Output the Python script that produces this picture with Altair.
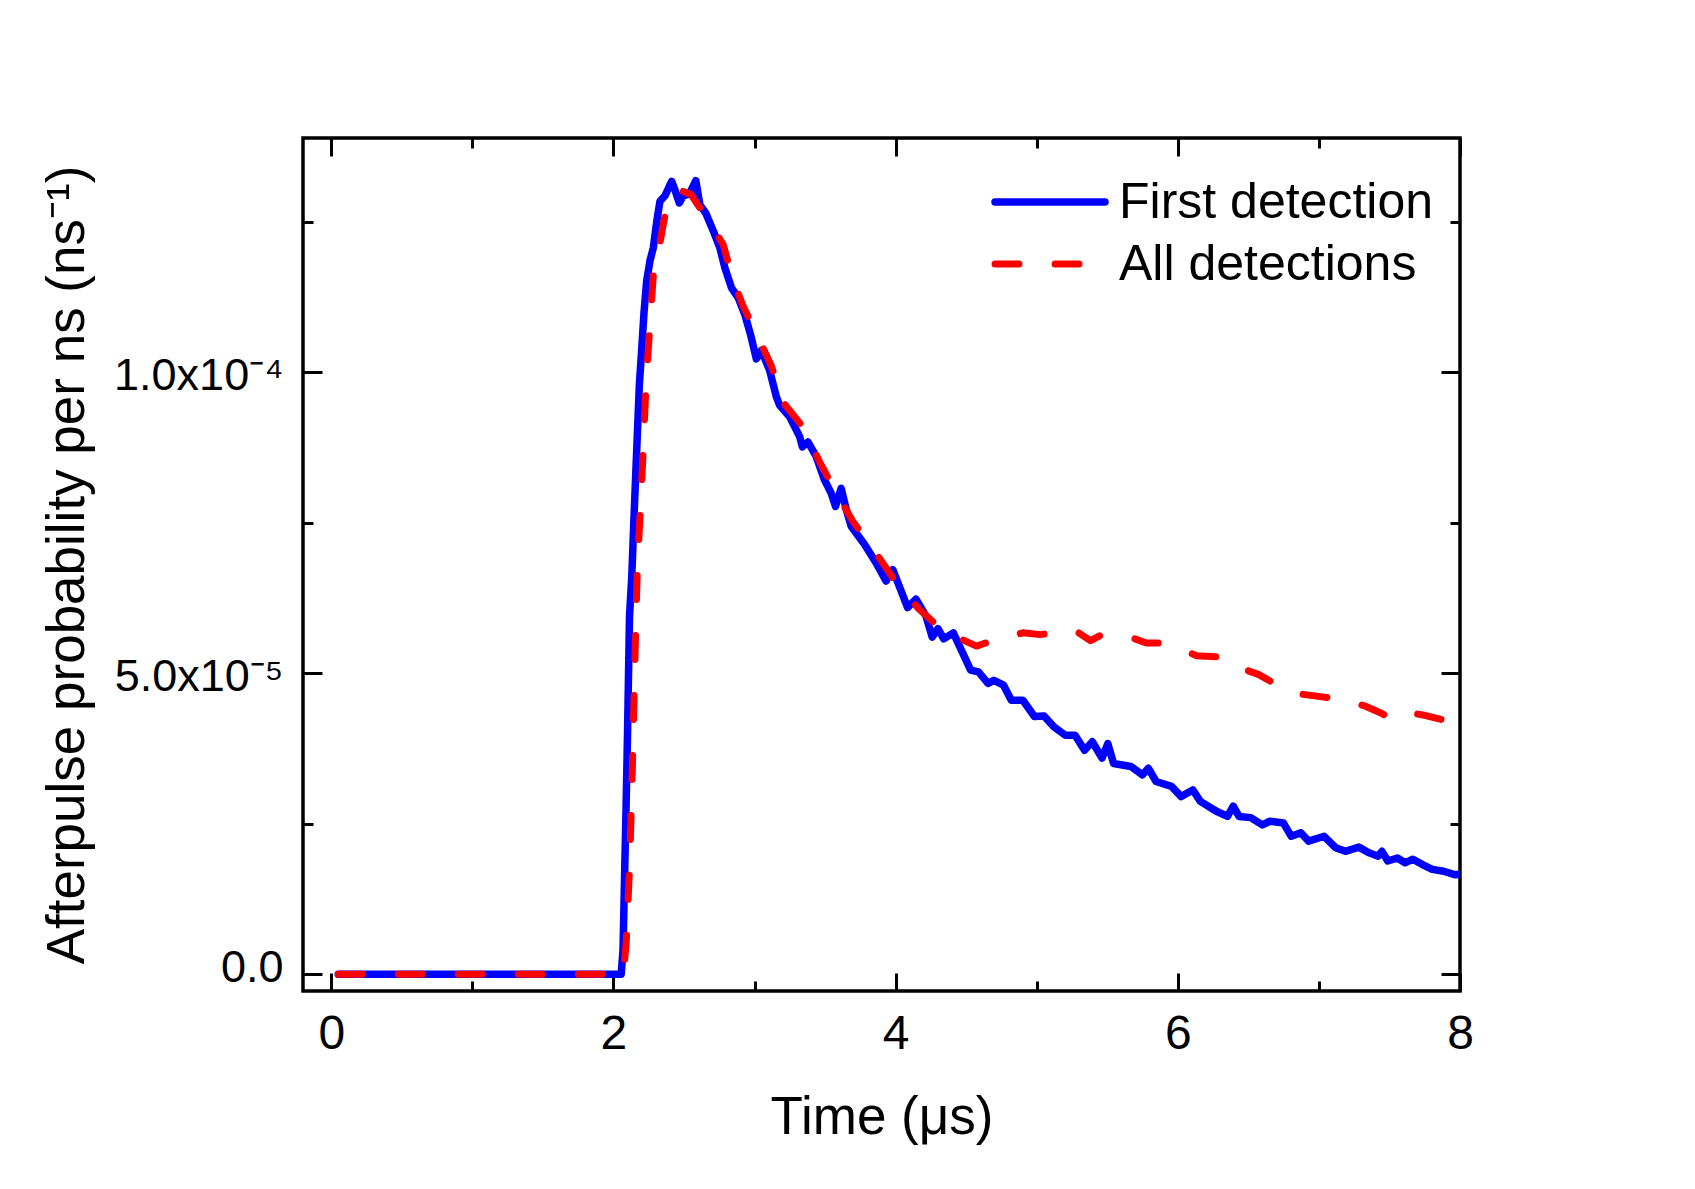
import altair as alt
import pandas as pd

# ---------------- data (time in microseconds, probability in units of 1e-5 per ns)
first_t = [0.05, 2.055, 2.068, 2.078, 2.09, 2.10, 2.114, 2.13, 2.146, 2.165,
           2.184, 2.20, 2.217, 2.236, 2.259, 2.283, 2.307, 2.33, 2.365, 2.413,
           2.436, 2.467, 2.495, 2.538, 2.584, 2.613, 2.655, 2.707, 2.754, 2.789,
           2.837, 2.884, 2.931, 2.971, 3.013, 3.049, 3.107, 3.155, 3.178, 3.249,
           3.32, 3.339, 3.379, 3.437, 3.496, 3.543, 3.574, 3.614, 3.65, 3.685,
           3.779, 3.862, 3.932, 3.98, 4.085, 4.144, 4.215, 4.259, 4.30, 4.341,
           4.409, 4.532, 4.587, 4.655, 4.696, 4.765, 4.82, 4.902, 4.984, 5.052,
           5.121, 5.203, 5.272, 5.339, 5.394, 5.463, 5.504, 5.545, 5.668, 5.75,
           5.791, 5.846, 5.955, 6.024, 6.106, 6.16, 6.27, 6.352, 6.393, 6.434,
           6.517, 6.599, 6.653, 6.749, 6.804, 6.872, 6.927, 7.037, 7.119, 7.188,
           7.283, 7.351, 7.42, 7.447, 7.488, 7.556, 7.611, 7.666, 7.734, 7.803,
           7.885, 7.967, 8.0]
first_p = [0, 0, 0.4, 1.5, 2.8, 4.0, 5.95, 6.6, 7.6, 8.7,
           9.8, 10.36, 11.0, 11.52, 11.85, 12.07, 12.5, 12.84, 12.93, 13.17,
           13.03, 12.81, 12.93, 12.96, 13.18, 12.78, 12.64, 12.35, 12.07, 11.74,
           11.4, 11.24, 10.96, 10.63, 10.22, 10.36, 10.03, 9.59, 9.45, 9.26,
           8.93, 8.76, 8.84, 8.6, 8.21, 7.99, 7.77, 8.07, 7.72, 7.44,
           7.14, 6.83, 6.53, 6.72, 6.09, 6.23, 5.95, 5.6, 5.74, 5.57,
           5.67, 5.05, 5.02, 4.83, 4.88, 4.8, 4.55, 4.55, 4.28, 4.29,
           4.11, 3.97, 3.97, 3.72, 3.86, 3.59, 3.83, 3.5, 3.45, 3.31,
           3.42, 3.2, 3.12, 2.95, 3.06, 2.87, 2.71, 2.62, 2.79, 2.62,
           2.6, 2.48, 2.54, 2.51, 2.29, 2.35, 2.21, 2.29, 2.1, 2.04,
           2.11, 2.02, 1.96, 2.04, 1.88, 1.93, 1.85, 1.91, 1.82, 1.74,
           1.71, 1.65, 1.66]

all_t = [0.05, 2.07, 2.09, 2.115, 2.135, 2.15, 2.16, 2.17, 2.193, 2.213,
         2.231, 2.259, 2.288, 2.318, 2.365, 2.413, 2.467, 2.55, 2.66, 2.778,
         2.849, 2.919, 3.037, 3.12, 3.202, 3.343, 3.461, 3.555, 3.697, 3.826,
         4.003, 4.163, 4.30, 4.395, 4.48, 4.573, 4.70, 4.82, 4.902, 5.025,
         5.15, 5.272, 5.381, 5.463, 5.58, 5.695, 5.777, 5.9, 6.02, 6.133,
         6.284, 6.338, 6.45, 6.571, 6.763, 6.88, 7.009, 7.201, 7.33, 7.447,
         7.502, 7.625, 7.75, 7.885, 8.0]
all_p = [0, 0, 0.5, 1.8, 3.5, 5.0, 5.95, 6.78, 7.82, 8.81,
         9.8, 10.8, 11.79, 12.0, 12.6, 12.89, 13.03, 12.95, 12.56, 12.12,
         11.52, 11.1, 10.52, 10.1, 9.5, 9.09, 8.51, 8.1, 7.52, 7.11,
         6.51, 6.07, 5.78, 5.64, 5.55, 5.45, 5.55, 5.62, 5.67, 5.64,
         5.68, 5.71, 5.54, 5.64, 5.62, 5.57, 5.5, 5.5, 5.4, 5.29,
         5.27, 5.17, 5.08, 4.98, 4.72, 4.65, 4.61, 4.55, 4.45, 4.33,
         4.25, 4.35, 4.3, 4.22, 4.05]

series_names = ["First detection", "All detections"]
x_tick_values = [0, 1, 2, 3, 4, 5, 6, 7, 8]
x_label_values = [0, 2, 4, 6, 8]
y_tick_values = [0, 2.5e-5, 5e-5, 7.5e-5, 1e-4, 1.25e-4]
y_label_values = [0, 5e-5, 1e-4]

# ---------------- styling
FONT = "Liberation Sans"
BLUE = "#0000FF"
RED = "#FF0000"
W, H = 1157, 853

df_first = pd.DataFrame({"t": first_t, "p": [v * 1e-5 for v in first_p],
                         "series": series_names[0]})
df_all = pd.DataFrame({"t": all_t, "p": [v * 1e-5 for v in all_p],
                       "series": series_names[1]})

xscale = alt.Scale(domain=[-0.2, 8], nice=False, zero=False)
yscale = alt.Scale(domain=[-2.8e-6, 1.389e-4], nice=False, zero=False)

x_major = {"condition": {"test": "round(datum.value) % 2 === 0", "value": 18}, "value": 10}
y_major = {"condition": {"test": "round(datum.value / 2.5e-5) % 2 === 0", "value": 19}, "value": 10}

tick_common = dict(labels=False, domain=False, grid=False, title=None,
                   tickColor="black", tickWidth=3)

x_axis_labels = alt.Axis(
    orient="bottom", values=x_label_values, format="d", ticks=False, domain=False,
    grid=False, labelFont=FONT, labelFontSize=48, labelColor="black",
    labelPadding=19, labelBaseline="top", labelFlush=False,
    title="Time (\u03bcs)", titleFont=FONT, titleFontSize=53,
    titleFontWeight="normal", titleColor="black", titleY=142,
    titleBaseline="alphabetic")

y_axis_labels = alt.Axis(
    orient="left", values=y_label_values, ticks=False, domain=False, grid=False,
    labelExpr="datum.value == 0 ? '0.0' : (datum.value < 7e-5 ? '5.0x10\u207b\u2075' : '1.0x10\u207b\u2074')",
    labelFont=FONT, labelFontSize=45, labelColor="black", labelPadding=20,
    labelFlush=False,
    labelOffset={"condition": {"test": "datum.value == 0", "value": -7}, "value": 3},
    title="Afterpulse probability per ns (ns\u207b\u00b9)", titleFont=FONT,
    titleFontSize=53, titleFontWeight="normal", titleColor="black",
    titleAngle=270, titleX=-220, titleY=H / 2, titleAlign="center",
    titleBaseline="alphabetic")

x_ticks_bottom = alt.Axis(orient="top", offset=-H, values=x_tick_values,
                          tickSize=x_major, **tick_common)
x_ticks_top = alt.Axis(orient="bottom", offset=-H, values=x_tick_values,
                       tickSize=x_major, **tick_common)
y_ticks_left = alt.Axis(orient="right", offset=-W, values=y_tick_values,
                        tickSize=y_major, **tick_common)
y_ticks_right = alt.Axis(orient="left", offset=-W, values=y_tick_values,
                         tickSize=y_major, **tick_common)

line_first = alt.Chart(df_first).mark_line(
    color=BLUE, strokeWidth=7.5, strokeJoin="round", strokeCap="round", clip=True
).encode(
    x=alt.X("t:Q", scale=xscale, axis=x_axis_labels),
    y=alt.Y("p:Q", scale=yscale, axis=y_axis_labels),
)

line_all = alt.Chart(df_all).mark_line(
    color=RED, strokeWidth=7, strokeDash=[24, 36], strokeCap="round",
    strokeJoin="round", clip=True
).encode(
    x=alt.X("t:Q", scale=xscale, axis=x_ticks_bottom),
    y=alt.Y("p:Q", scale=yscale, axis=y_ticks_left),
)

frame_ticks = alt.Chart(df_first).mark_line(opacity=0, clip=True).encode(
    x=alt.X("t:Q", scale=xscale, axis=x_ticks_top),
    y=alt.Y("p:Q", scale=yscale, axis=y_ticks_right),
)

# ---------------- legend (inside the plot, top right)
leg_first = pd.DataFrame({"label": [series_names[0]]})
leg_all = pd.DataFrame({"label": [series_names[1]]})

leg_line_first = alt.Chart(leg_first).mark_rule(
    color=BLUE, strokeWidth=7.5, strokeCap="round"
).encode(x=alt.value(692), x2=alt.value(802), y=alt.value(64))

leg_line_all = alt.Chart(leg_all).mark_rule(
    color=RED, strokeWidth=7, strokeCap="round", strokeDash=[24, 36]
).encode(x=alt.value(692), x2=alt.value(778), y=alt.value(126))

leg_text_first = alt.Chart(leg_first).mark_text(
    align="left", baseline="alphabetic", font=FONT, fontSize=50, color="black"
).encode(x=alt.value(816), y=alt.value(80), text="label:N")

leg_text_all = alt.Chart(leg_all).mark_text(
    align="left", baseline="alphabetic", font=FONT, fontSize=50, color="black"
).encode(x=alt.value(816), y=alt.value(142), text="label:N")

chart = alt.layer(
    frame_ticks, line_first, line_all,
    leg_line_first, leg_line_all, leg_text_first, leg_text_all
).resolve_axis(
    x="independent", y="independent"
).properties(
    width=W, height=H,
    autosize=alt.AutoSizeParams(type="none"),
    padding={"left": 295, "top": 130, "right": 60, "bottom": 190},
    background="white",
).configure_view(
    stroke="black", strokeWidth=3.5
)

chart.save("out.html", embed_options={"renderer": "svg", "actions": False})
